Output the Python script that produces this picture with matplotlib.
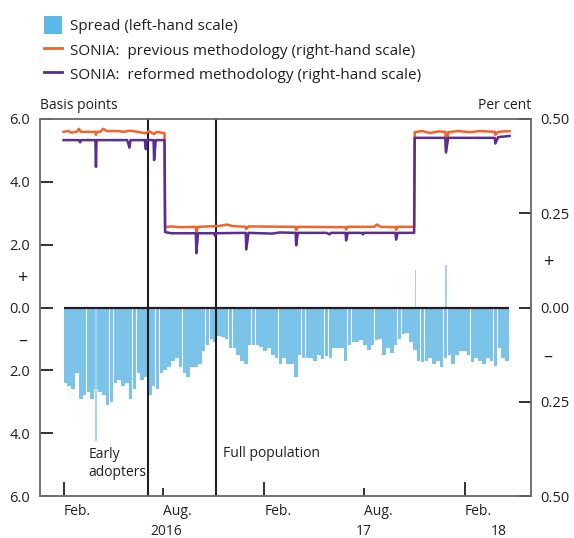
import numpy as np
import pandas as pd
import matplotlib
matplotlib.use("Agg")
import matplotlib.pyplot as plt
import matplotlib.transforms as mtrans
from matplotlib.patches import Patch
from matplotlib.lines import Line2D

plt.rcParams['font.family'] = ['Open Sans', 'DejaVu Sans']

# weekly spread (basis points, left-hand scale), weeks starting Mon 1 Feb 2016
spread_bp = [
    -2.4, -2.5, -2.6, -2.1, -2.9, -2.8, -2.7, -2.9, -2.6, -2.7,
    -2.8, -3.1, -3.0, -2.4, -2.3, -2.5, -2.4, -2.9, -2.6, -2.1,
    -2.3, -2.2, -2.8, -2.5, -2.6, -2.1, -2.0, -1.9, -1.7, -1.6,
    -1.9, -2.1, -2.2, -1.9, -1.9, -1.8, -1.4, -1.2, -1.0, -1.1,
    -0.9, -0.95, -1.0, -1.3, -1.3, -1.5, -1.7, -1.8, -1.2, -1.2,
    -1.2, -1.25, -1.4, -1.3, -1.5, -1.6, -1.8, -1.6, -1.8, -1.8,
    -2.2, -1.5, -1.6, -1.6, -1.6, -1.7, -1.5, -1.65, -1.55, -1.6,
    -1.3, -1.3, -1.3, -1.7, -1.2, -1.1, -1.1, -1.05, -1.2, -1.35,
    -1.2, -1.05, -1.0, -1.5, -1.3, -1.45, -1.2, -1.0, -0.85, -0.8,
    -1.1, -1.35, -1.7, -1.75, -1.7, -1.6, -1.8, -1.7, -1.9, -1.6,
    -1.5, -1.8, -1.5, -1.4, -1.4, -1.5, -1.75, -1.6, -1.7, -1.8,
    -1.6, -1.7, -1.85, -1.3, -1.6, -1.7,
]
spread_dates = pd.date_range("2016-02-01", periods=len(spread_bp), freq="W-MON")

# single-day spikes in the spread
spike_dates = pd.to_datetime(["2016-03-31", "2017-11-03", "2017-12-29"])
spike_bp = [-4.25, 1.18, 1.34]

# SONIA, previous methodology (per cent)
prev_dates = pd.to_datetime([
    "2016-02-01", "2016-02-10", "2016-02-15", "2016-02-25", "2016-02-29",
    "2016-03-03", "2016-03-30", "2016-03-31", "2016-04-01", "2016-04-08",
    "2016-04-13", "2016-04-20", "2016-05-10", "2016-05-20", "2016-06-01",
    "2016-06-15", "2016-06-30", "2016-07-05", "2016-07-15", "2016-07-20",
    "2016-08-03", "2016-08-04", "2016-08-15", "2016-09-01", "2016-09-29",
    "2016-09-30", "2016-10-03", "2016-10-20", "2016-11-10", "2016-11-25",
    "2016-12-05", "2016-12-29", "2016-12-30", "2017-01-03", "2017-03-30",
    "2017-03-31", "2017-04-03", "2017-06-29", "2017-06-30", "2017-07-03",
    "2017-08-20", "2017-08-25", "2017-09-01", "2017-09-28", "2017-09-29",
    "2017-10-02", "2017-11-01", "2017-11-02", "2017-11-15", "2017-11-30",
    "2017-12-15", "2017-12-28", "2017-12-29", "2018-01-02", "2018-01-20",
    "2018-02-10", "2018-02-28", "2018-03-28", "2018-03-29", "2018-04-03",
    "2018-04-24",
])
prev_pct = [
    0.466, 0.468, 0.464, 0.466, 0.474,
    0.466, 0.466, 0.458, 0.466, 0.466,
    0.474, 0.468, 0.468, 0.466, 0.469,
    0.466, 0.462, 0.468, 0.460, 0.466,
    0.462, 0.213, 0.215, 0.213, 0.214,
    0.201, 0.214, 0.215, 0.216, 0.220,
    0.216, 0.214, 0.208, 0.215, 0.214,
    0.205, 0.214, 0.213, 0.207, 0.214,
    0.214, 0.220, 0.214, 0.213, 0.206,
    0.214, 0.214, 0.465, 0.468, 0.463,
    0.467, 0.466, 0.410, 0.465, 0.468,
    0.465, 0.468, 0.466, 0.458, 0.466,
    0.468,
]

# SONIA, reformed methodology (per cent)
ref_dates = pd.to_datetime([
    "2016-02-01", "2016-02-29", "2016-03-02", "2016-03-04", "2016-03-30",
    "2016-03-31", "2016-04-01", "2016-05-27", "2016-05-31", "2016-06-02",
    "2016-06-28", "2016-06-30", "2016-07-01", "2016-07-14", "2016-07-15",
    "2016-07-18", "2016-08-03", "2016-08-04", "2016-08-15", "2016-09-29",
    "2016-09-30", "2016-10-03", "2016-11-02", "2016-11-03", "2016-11-04",
    "2016-12-29", "2016-12-30", "2017-01-03", "2017-02-15", "2017-03-01",
    "2017-03-30", "2017-03-31", "2017-04-03", "2017-05-25", "2017-05-31",
    "2017-06-02", "2017-06-29", "2017-06-30", "2017-07-03", "2017-07-28",
    "2017-07-31", "2017-08-01", "2017-09-28", "2017-09-29", "2017-10-02",
    "2017-11-01", "2017-11-02", "2017-12-28", "2017-12-29", "2018-01-02",
    "2018-03-28", "2018-03-29", "2018-04-03", "2018-04-24",
])
ref_pct = [
    0.444, 0.444, 0.438, 0.444, 0.444,
    0.373, 0.444, 0.444, 0.424, 0.444,
    0.444, 0.420, 0.444, 0.444, 0.391,
    0.444, 0.444, 0.200, 0.197, 0.197,
    0.144, 0.197, 0.197, 0.190, 0.197,
    0.198, 0.154, 0.198, 0.196, 0.199,
    0.198, 0.165, 0.198, 0.198, 0.194,
    0.198, 0.198, 0.178, 0.198, 0.198,
    0.194, 0.198, 0.198, 0.180, 0.198,
    0.198, 0.450, 0.450, 0.413, 0.450,
    0.450, 0.435, 0.452, 0.455,
]

event_dates = pd.to_datetime(["2016-07-03", "2016-11-04"])
event_labels = ["Early\nadopters", "Full population"]

major_dates = pd.to_datetime(["2016-02-01", "2017-02-01", "2018-02-01"])
minor_dates = pd.to_datetime(["2016-08-01", "2017-08-01"])
year_dates = pd.to_datetime(["2016-08-06", "2017-08-01", "2018-04-05"])
year_labels = ["2016", "17", "18"]

BAR_C = "#7cc3ea"
ORANGE = "#f4632a"
PURPLE = "#5a2d91"
INK = "#231f20"
FRAME = "#6d6e71"

fig = plt.figure(figsize=(5.74, 5.38), dpi=100)
ax = fig.add_axes([40 / 574, 1 - 496 / 538, 491 / 574, 377 / 538])
ax2 = ax.twinx()

ax.bar(spread_dates, spread_bp, width=6.5, align="edge", color=BAR_C,
       edgecolor="none", zorder=2)
ax.bar(spike_dates, spike_bp, width=2.6, color="#a3d3f1", edgecolor="none",
       zorder=2)
ax.plot([spread_dates[0], spread_dates[-1] + pd.Timedelta(days=6)], [0, 0],
        color=INK, lw=1.6, zorder=3, solid_capstyle="butt")
for d in event_dates:
    ax.axvline(d, color=INK, lw=1.5, zorder=4)

ax2.plot(prev_dates, prev_pct, color=ORANGE, lw=1.8, zorder=3)
ax2.plot(ref_dates, ref_pct, color=PURPLE, lw=1.8, zorder=4)

ax.set_xlim(pd.Timestamp("2015-12-20"), pd.Timestamp("2018-06-02"))
ax.set_ylim(-6, 6)
ax2.set_ylim(-0.5, 0.5)

ax.set_yticks([-6, -4, -2, 0, 2, 4, 6],
              labels=["6.0", "4.0", "2.0", "0.0", "2.0", "4.0", "6.0"])
ax.set_yticks([-1, 1], labels=["\u2013", "+"], minor=True)
ax2.set_yticks([-0.5, -0.25, 0, 0.25, 0.5],
               labels=["0.50", "0.25", "0.00", "0.25", "0.50"])
ax2.set_yticks([-0.125, 0.125], labels=["\u2013", "+"], minor=True)

ax.set_xticks(major_dates, labels=["Feb."] * 3)
ax.set_xticks(minor_dates, labels=["Aug."] * 2, minor=True)

for a in (ax, ax2):
    a.tick_params(axis="y", which="major", direction="in", length=9,
                  width=1.3, color=INK, labelsize=10.5, labelcolor=INK, pad=7)
    a.tick_params(axis="y", which="minor", length=0, labelsize=13,
                  labelcolor=INK, pad=9)
    for s in a.spines.values():
        s.set_color(FRAME)
        s.set_linewidth(1.1)
ax.tick_params(axis="x", which="major", direction="in", length=10,
               width=1.3, color=INK, labelsize=10, labelcolor=INK, pad=6)
ax.tick_params(axis="x", which="minor", direction="in", length=6,
               width=1.3, color=INK, labelsize=10, labelcolor=INK, pad=6)
for lab in ax.get_xticklabels(which="both"):
    lab.set_horizontalalignment("left")

trans = mtrans.blended_transform_factory(ax.transData, ax.transAxes)
for d, t in zip(year_dates, year_labels):
    ax.text(d, -0.093, t, transform=trans, ha="center", va="center",
            fontsize=10, color=INK)

ax.text(pd.Timestamp("2016-03-18"), -4.97, event_labels[0], ha="left",
        va="center", fontsize=10, color=INK, linespacing=1.25)
ax.text(pd.Timestamp("2016-11-18"), -4.65, event_labels[1], ha="left",
        va="center", fontsize=10, color=INK)

ax.text(0, 1.015, "Basis points", transform=ax.transAxes, ha="left",
        va="bottom", fontsize=10, color=INK)
ax.text(1, 1.015, "Per cent", transform=ax.transAxes, ha="right",
        va="bottom", fontsize=10, color=INK)

handles = [
    Patch(facecolor="#5bb8e8", edgecolor="none"),
    Line2D([], [], color=ORANGE, lw=2),
    Line2D([], [], color=PURPLE, lw=2),
]
labels = [
    "Spread (left-hand scale)",
    "SONIA:  previous methodology (right-hand scale)",
    "SONIA:  reformed methodology (right-hand scale)",
]
fig.legend(handles, labels, loc="upper left",
           bbox_to_anchor=(38 / 574, 1 - 10 / 538), frameon=False,
           fontsize=11, handlelength=1.15, handleheight=1.45,
           handletextpad=0.55, labelspacing=0.42, borderaxespad=0,
           labelcolor=INK)

fig.savefig("out.png", dpi=100)
